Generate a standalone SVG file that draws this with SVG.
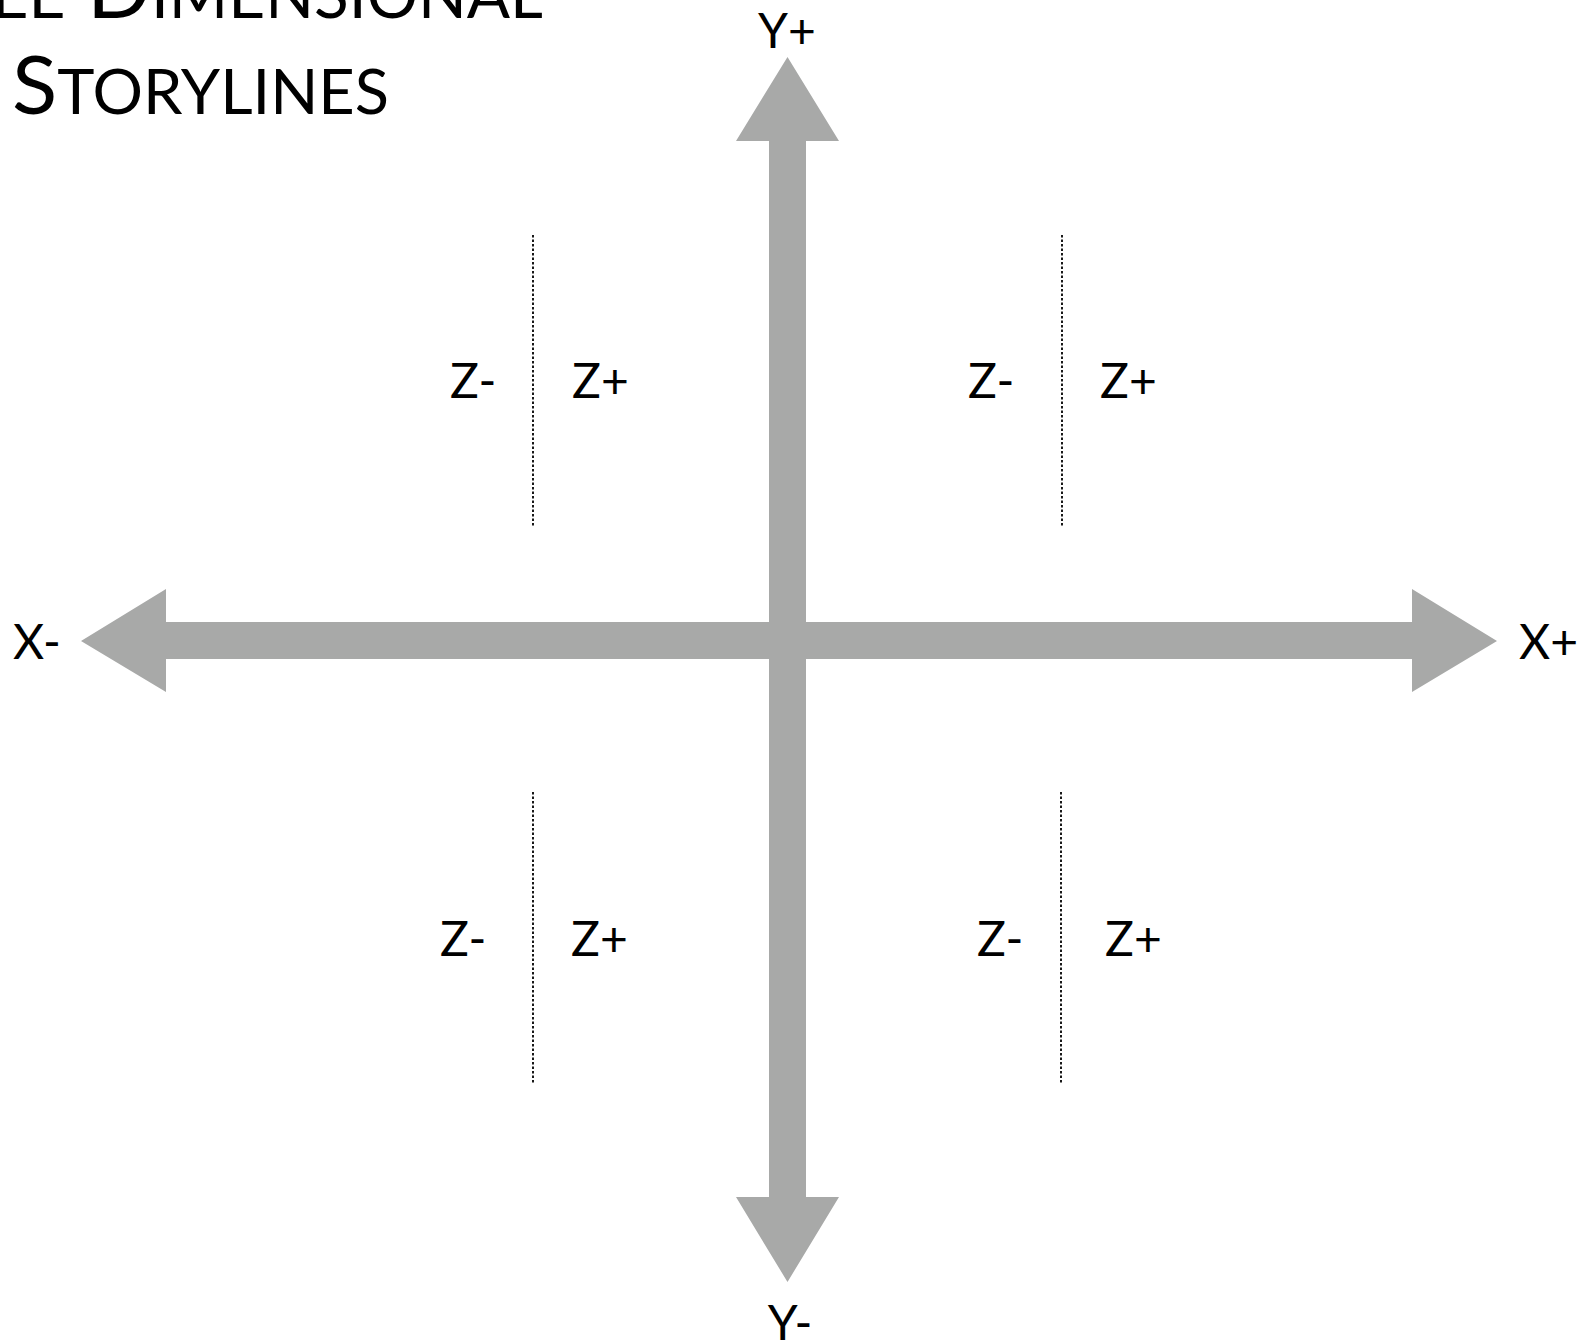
<svg xmlns="http://www.w3.org/2000/svg" width="1585" height="1344" viewBox="0 0 1585 1344">
<style>
.ax{fill:#a8a9a8}
.lbl{font-family:Lato,"Noto Sans","Liberation Sans",sans-serif;font-size:48px;fill:#000}
.ttl{font-family:Lato,"Noto Sans","Liberation Sans",sans-serif;fill:#000}
.dot{stroke:#000;stroke-width:1.8;stroke-dasharray:2.5 2;fill:none}
</style>
<rect width="1585" height="1344" fill="#fff"/>
<g id="title">
<text class="ttl" x="543" y="18" text-anchor="end" font-size="64">T<tspan font-size="64">HREE</tspan><tspan font-size="84"> D</tspan>IMENSIONAL</text>
<text class="ttl" x="12" y="114" font-size="62" textLength="377" lengthAdjust="spacingAndGlyphs"><tspan font-size="82">S</tspan>TORYLINES</text>
</g>
<g id="axes">
<polygon id="x-axis" class="ax" points="81,641 166,589 166,622 1412,622 1412,589 1497,641 1412,692 1412,659 166,659 166,692"/>
<polygon id="y-axis" class="ax" points="787.5,57 839,141 806,141 806,1197 839,1197 787.5,1282 736,1197 769,1197 769,141 736,141"/>
</g>
<g id="axis-labels">
<text class="lbl" x="787" y="48" text-anchor="middle">Y+</text>
<text class="lbl" x="790" y="1340" text-anchor="middle">Y-</text>
<text class="lbl" x="13" y="659">X-</text>
<text class="lbl" x="1519" y="659">X+</text>
</g>
<g id="connectors">
<line class="dot" x1="533" y1="235" x2="533" y2="526"/>
<line class="dot" x1="1062" y1="235" x2="1062" y2="526"/>
<line class="dot" x1="533" y1="792" x2="533" y2="1084"/>
<line class="dot" x1="1061" y1="792" x2="1061" y2="1084"/>
</g>
<g id="q-top-left">
<text class="lbl" x="450" y="398">Z-</text>
<text class="lbl" x="572" y="398">Z+</text>
</g>
<g id="q-top-right">
<text class="lbl" x="968" y="398">Z-</text>
<text class="lbl" x="1100" y="398">Z+</text>
</g>
<g id="q-bottom-left">
<text class="lbl" x="440" y="956">Z-</text>
<text class="lbl" x="571" y="956">Z+</text>
</g>
<g id="q-bottom-right">
<text class="lbl" x="977" y="956">Z-</text>
<text class="lbl" x="1105" y="956">Z+</text>
</g>
</svg>
